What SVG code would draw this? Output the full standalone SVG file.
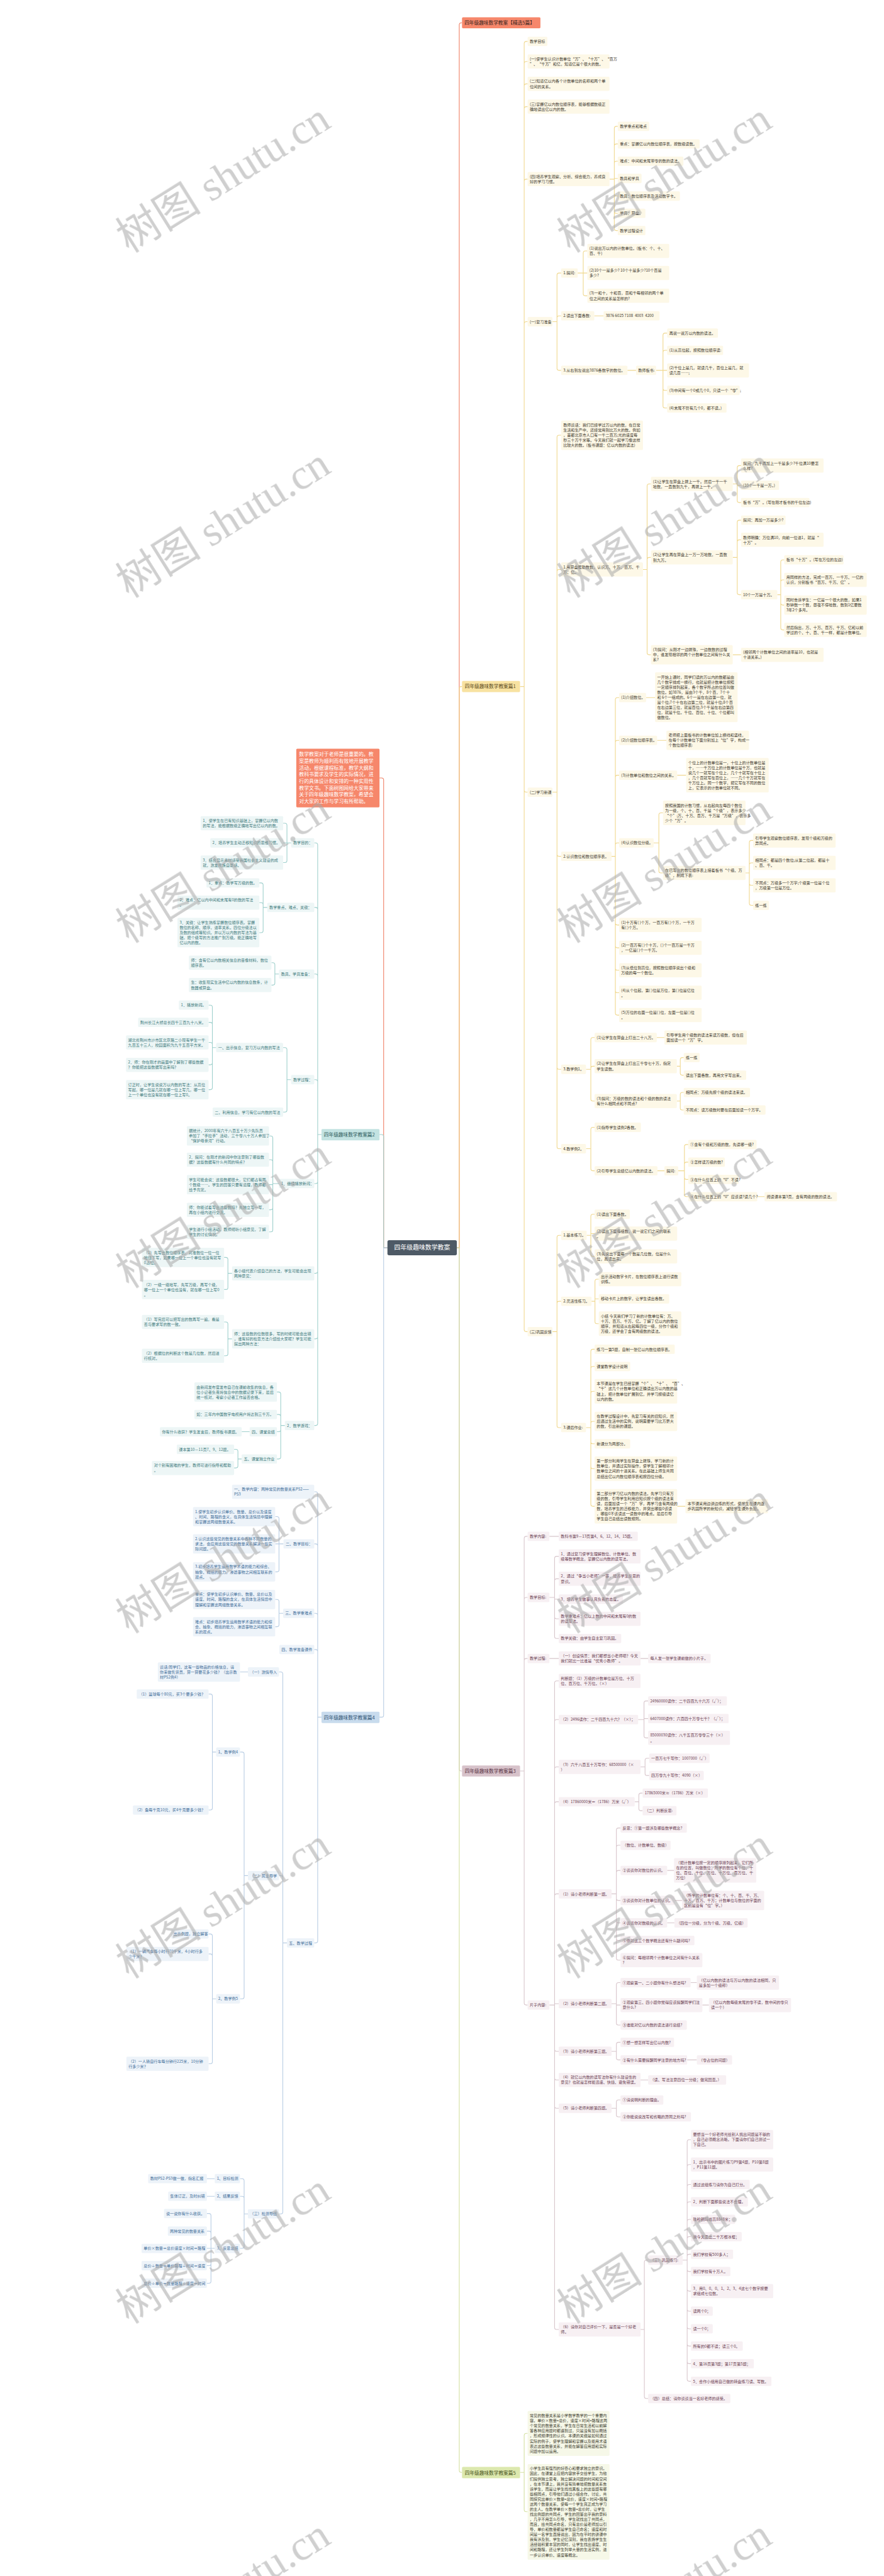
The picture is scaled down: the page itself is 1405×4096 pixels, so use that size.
<svg xmlns="http://www.w3.org/2000/svg" width="1405" height="4096" viewBox="0 0 1405 4096">
<style>
text{font-family:"Noto Sans CJK SC","Noto Sans",sans-serif;font-size:11.2px}
rect{rx:3px}
.y rect{fill:#fdf8e7}.y text{fill:#3f3a30}
.m rect{fill:#f7f0f3}.m text{fill:#6b3d52}
.g rect{fill:#f6f8e8}.g text{fill:#3f4030}
.t rect{fill:#edf6f6}.t text{fill:#3d7a7d}
.b rect{fill:#edf3f9}.b text{fill:#3f6e9a}
.ty rect{fill:#f8e2a1}.ty text{fill:#5b4a1c;font-size:14px}
.tm rect{fill:#d7c2ca}.tm text{fill:#5a3445;font-size:14px}
.tg rect{fill:#dce8ae}.tg text{fill:#4a5520;font-size:14px}
.tt rect{fill:#c3e3e2}.tt text{fill:#2f5e60;font-size:14px}
.tb rect{fill:#c8dbed}.tb text{fill:#2f5575;font-size:14px}
.c path{fill:none;stroke-width:2}
.cy{stroke:#f0d88e}.cm{stroke:#d8c6cc}.cg{stroke:#d4e0a0}.ct{stroke:#9fd0cd}.cb{stroke:#b8cde3}.cr{stroke:#ef7f63}
.wm text{font-family:"Liberation Serif","Noto Sans CJK SC",serif;font-size:124px;fill:#a8a8a8;text-anchor:middle}
</style>
<rect width="1405" height="4096" fill="#ffffff" style="rx:0"/>
<g transform="scale(0.548828)">
<g id="connectors" class="c">
<path class="cr" d="M1323 3615H1330V72Q1330 66 1336 66H1338M1122 3615H1111V2260Q1111 2254 1105 2254H1099"/>
<path class="cy" d="M1323 3615H1330V1995Q1330 1989 1336 1989H1338"/>
<path class="cm" d="M1323 3615H1330V5125Q1330 5131 1336 5131H1338"/>
<path class="cg" d="M1323 3615H1330V7157Q1330 7163 1336 7163H1338"/>
<path class="ct" d="M1122 3615H1111V3293Q1111 3287 1105 3287H1099"/>
<path class="cb" d="M1122 3615H1111V4969Q1111 4975 1105 4975H1099"/>
<path class="cy" d="M1506 1989H1518M1518 1989V126Q1518 120 1524 120H1528M1518 1989V184Q1518 178 1524 178H1528M1518 1989V249Q1518 243 1524 243H1528M1518 1989V315Q1518 309 1524 309H1528M1518 1989V525Q1518 519 1524 519H1528M1518 1989V938Q1518 932 1524 932H1528M1518 1989V2289Q1518 2295 1524 2295H1528M1518 1989V3852Q1518 3858 1524 3858H1528
M1765 519H1779M1779 519V372Q1779 366 1785 366H1789M1779 519V423Q1779 417 1785 417H1789M1779 519V473Q1779 467 1785 467H1789M1779 517H1789M1779 519V562Q1779 568 1785 568H1789M1779 519V612Q1779 618 1785 618H1789M1779 519V662Q1779 668 1785 668H1789
M1600 932H1613M1613 932V797Q1613 791 1619 791H1625M1613 932V921Q1613 915 1619 915H1625M1613 932V1067Q1613 1073 1619 1073H1625
M1673 791H1701M1689 791V733Q1689 727 1695 727H1701M1689 791V851Q1689 857 1695 857H1701
M1721 915H1748M1817 1073H1842
M1900 1073H1932M1920 1073V971Q1920 965 1926 965H1932M1920 1073V1021Q1920 1015 1926 1015H1932M1920 1073V1125Q1920 1131 1926 1131H1932M1920 1073V1176Q1920 1182 1926 1182H1932
M1600 2295H1613M1613 2295V1267Q1613 1261 1619 1261H1625M1613 2295V1656Q1613 1650 1619 1650H1625M1613 2295V2475Q1613 2481 1619 2481H1625M1613 2295V3092Q1613 3098 1619 3098H1625M1613 2295V3322Q1613 3328 1619 3328H1625
M1862 1650H1874M1874 1650V1408Q1874 1402 1880 1402H1885M1874 1650V1621Q1874 1615 1880 1615H1885M1874 1650V1891Q1874 1897 1880 1897H1885
M2122 1402H2135M2135 1402V1355Q2135 1349 2141 1349H2146M2135 1406H2146M2135 1402V1450Q2135 1456 2141 1456H2146
M2122 1615H2135M2135 1615V1513Q2135 1507 2141 1507H2146M2135 1615V1570Q2135 1564 2141 1564H2146M2135 1615V1717Q2135 1723 2141 1723H2146
M2251 1723H2261M2261 1723V1628Q2261 1622 2267 1622H2271M2261 1723V1686Q2261 1680 2267 1680H2271M2261 1723V1747Q2261 1753 2267 1753H2271M2261 1723V1819Q2261 1825 2267 1825H2271
M2122 1897H2146
M1771 2481H1782M1782 2481V2027Q1782 2021 1788 2021H1793M1782 2481V2151Q1782 2145 1788 2145H1793M1782 2481V2252Q1782 2246 1788 2246H1793M1782 2481V2448Q1782 2442 1788 2442H1793M1782 2481V2674Q1782 2680 1788 2680H1793M1782 2481V2740Q1782 2746 1788 2746H1793M1782 2481V2805Q1782 2811 1788 2811H1793M1782 2481V2870Q1782 2876 1788 2876H1793M1782 2481V2935Q1782 2941 1788 2941H1793
M1871 2021H1897M1903 2145H1930M1961 2246H1987
M1893 2442H1908M1908 2442V2361Q1908 2355 1914 2355H1920M1908 2442V2523Q1908 2529 1914 2529H1920
M2159 2529H2170M2170 2529V2441Q2170 2435 2176 2435H2181M2170 2529V2506Q2170 2500 2176 2500H2181M2170 2529V2559Q2170 2565 2176 2565H2181M2170 2529V2617Q2170 2623 2176 2623H2181
M1697 3098H1711M1711 3098V3012Q1711 3006 1717 3006H1722M1711 3098V3095Q1711 3089 1717 3089H1722M1711 3098V3184Q1711 3190 1717 3190H1722
M1902 3006H1924
M1960 3089H1970M1970 3089V3070Q1970 3064 1976 3064H1980M1970 3089V3109Q1970 3115 1976 3115H1980
M1960 3190H1970M1970 3190V3171Q1970 3165 1976 3165H1980M1970 3190V3210Q1970 3216 1976 3216H1980
M1697 3328H1711M1711 3328V3272Q1711 3266 1717 3266H1722M1711 3328V3386Q1711 3392 1717 3392H1722
M1904 3392H1924
M1964 3392H1982M1982 3392V3322Q1982 3316 1988 3316H1993M1982 3392V3373Q1982 3367 1988 3367H1993M1982 3392V3411Q1982 3417 1988 3417H1993M1982 3392V3461Q1982 3467 1988 3467H1993
M2193 3467H2214
M1600 3858H1613M1613 3858V3585Q1613 3579 1619 3579H1625M1613 3858V3776Q1613 3770 1619 3770H1625M1613 3858V4130Q1613 4136 1619 4136H1625
M1699 3579H1711M1711 3579V3524Q1711 3518 1717 3518H1722M1711 3579V3574H1722M1711 3579V3634Q1711 3640 1717 3640H1722
M1713 3770H1723M1723 3770V3712Q1723 3706 1729 3706H1734M1723 3770V3763H1734M1723 3770V3829Q1723 3835 1729 3835H1734
M1697 4136H1711M1711 4136V3915Q1711 3909 1717 3909H1722M1711 4136V3965Q1711 3959 1717 3959H1722M1711 4136V4037Q1711 4031 1717 4031H1722M1711 4136V4124Q1711 4118 1717 4118H1722M1711 4136V4177Q1711 4183 1717 4183H1722M1711 4136V4249Q1711 4255 1717 4255H1722M1711 4136V4358Q1711 4364 1717 4364H1722
M1961 4364H1985"/>
<path class="cm" d="M1506 5131H1518M1518 5131V4457Q1518 4451 1524 4451H1528M1518 5131V4634Q1518 4628 1524 4628H1528M1518 5131V4811Q1518 4805 1524 4805H1528M1518 5131V5803Q1518 5809 1524 5809H1528
M1591 4451H1618
M1591 4628H1606M1606 4628V4515Q1606 4509 1612 4509H1618M1606 4628V4580Q1606 4574 1612 4574H1618M1606 4628V4633H1618M1606 4628V4684Q1606 4690 1612 4690H1618M1606 4628V4741Q1606 4747 1612 4747H1618
M1591 4805H1618M1855 4805H1877
M1591 5809H1606M1606 5809V4876Q1606 4870 1612 4870H1618M1606 5809V4988Q1606 4982 1612 4982H1618M1606 5809V5125Q1606 5119 1612 5119H1618M1606 5809V5226Q1606 5220 1612 5220H1618M1606 5809V5493Q1606 5487 1612 5487H1618M1606 5809V5805H1618M1606 5809V5937Q1606 5943 1612 5943H1618M1606 5809V6020Q1606 6026 1612 6026H1618M1606 5809V6102Q1606 6108 1612 6108H1618M1606 5809V6743Q1606 6749 1612 6749H1618
M1848 4982H1865M1865 4982V4934Q1865 4928 1871 4928H1877M1865 4982V4979H1877M1865 4982V5029Q1865 5035 1871 5035H1877
M1855 5119H1868M1868 5119V5100Q1868 5094 1874 5094H1880M1868 5119V5138Q1868 5144 1874 5144H1880
M1838 5220H1850M1850 5220V5201Q1850 5195 1856 5195H1861M1850 5220V5240Q1850 5246 1856 5246H1861
M1771 5487H1785M1785 5487V5302Q1785 5296 1791 5296H1797M1785 5487V5352Q1785 5346 1791 5346H1797M1785 5487V5425Q1785 5419 1791 5419H1797M1785 5487V5500Q1785 5506 1791 5506H1797M1785 5487V5565Q1785 5571 1791 5571H1797M1785 5487V5616Q1785 5622 1791 5622H1797M1785 5487V5673Q1785 5679 1791 5679H1797
M1932 5419H1952M1954 5506H1975M1932 5571H1953
M1771 5805H1785M1785 5805V5750Q1785 5744 1791 5744H1797M1785 5805V5809H1797M1785 5805V5861Q1785 5867 1791 5867H1797
M2000 5744H2018M2034 5809H2053
M1771 5943H1785M1785 5943V5923Q1785 5917 1791 5917H1797M1785 5943V5962Q1785 5968 1791 5968H1797
M1990 5968H2018M1855 6026H1877
M1771 6108H1785M1785 6108V6090Q1785 6084 1791 6084H1797M1785 6108V6127Q1785 6133 1791 6133H1797
M1855 6749H1866M1866 6749V6554Q1866 6548 1872 6548H1877M1866 6749V6943Q1866 6949 1872 6949H1877
M1977 6548H1990M1990 6548V6205Q1990 6199 1996 6199H2001M1990 6548V6277Q1990 6271 1996 6271H2001M1990 6548V6335Q1990 6329 1996 6329H2001M1990 6548V6385Q1990 6379 1996 6379H2001M1990 6548V6436Q1990 6430 1996 6430H2001M1990 6548V6486Q1990 6480 1996 6480H2001M1990 6548V6537Q1990 6531 1996 6531H2001M1990 6548V6575Q1990 6581 1996 6581H2001M1990 6548V6632Q1990 6638 1996 6638H2001M1990 6548V6690Q1990 6696 1996 6696H2001M1990 6548V6741Q1990 6747 1996 6747H2001M1990 6548V6791Q1990 6797 1996 6797H2001M1990 6548V6842Q1990 6848 1996 6848H2001M1990 6548V6893Q1990 6899 1996 6899H2001"/>
<path class="cg" d="M1506 7163H1518M1518 7163V7056Q1518 7050 1524 7050H1528M1518 7163V7271Q1518 7277 1524 7277H1528"/>
<path class="ct" d="M931 3287H920M920 3287V2448Q920 2442 914 2442H910M920 3287V2635Q920 2629 914 2629H910M920 3287V2828Q920 2822 914 2822H910M920 3287V3134Q920 3128 914 3128H910M920 3287V3423Q920 3429 914 3429H910M920 3287V3683Q920 3689 914 3689H910M920 3287V3873Q920 3879 914 3879H910M920 3287V4124Q920 4130 914 4130H910
M843 2442H820M831 2442V2391Q831 2385 825 2385H820M831 2442V2493Q831 2499 825 2499H820
M774 2629H762M762 2629V2564Q762 2558 756 2558H751M762 2629V2621Q762 2615 756 2615H751M762 2629V2696Q762 2702 756 2702H751
M808 2822H796M796 2822V2795Q796 2789 790 2789H786M796 2822V2848Q796 2854 790 2854H786
M843 3128H831M831 3128V3041Q831 3035 825 3035H820M831 3128V3216Q831 3222 825 3222H820
M626 3035H615M615 3035V2918Q615 2912 609 2912H604M615 3035V2968Q615 2962 609 2962H604M615 3035V3026Q615 3020 609 3020H604M615 3035V3079Q615 3085 609 3085H604M615 3035V3151Q615 3157 609 3157H604
M808 3429H790M790 3429V3297Q790 3291 784 3291H779M790 3429V3366Q790 3360 784 3360H779M790 3429V3432H779M790 3429V3499Q790 3505 784 3505H779M790 3429V3563Q790 3569 784 3569H779
M672 3689H660M660 3689V3649Q660 3643 654 3643H649M660 3689V3730Q660 3736 654 3736H649
M672 3879H660M660 3879V3836Q660 3830 654 3830H649M660 3879V3922Q660 3928 654 3928H649
M825 4130H813M813 4130V4039Q813 4033 807 4033H802M813 4130V4104Q813 4098 807 4098H802M813 4130V4142Q813 4148 807 4148H802M813 4130V4221Q813 4227 807 4227H802
M723 4148H700
M700 4227H689M689 4227V4205Q689 4199 683 4199H678M689 4227V4247Q689 4253 683 4253H678"/>
<path class="cb" d="M931 4975H920M920 4975V4328Q920 4322 914 4322H910M920 4975V4479Q920 4473 914 4473H910M920 4975V4680Q920 4674 914 4674H910M920 4975V4785Q920 4779 914 4779H910M920 4975V5623Q920 5629 914 5629H910
M821 4473H797M808 4473V4400Q808 4394 802 4394H797M808 4473V4548Q808 4554 802 4554H797
M820 4674H808M808 4674V4640Q808 4634 802 4634H797M808 4674V4707Q808 4713 802 4713H797
M831 5629H819M819 5629V4850Q819 4844 813 4844H808M819 5629V5440Q819 5434 813 5434H808M819 5629V6408Q819 6414 813 6414H808
M718 4844H695
M718 5434H707M707 5434V5082Q707 5076 701 5076H695M707 5434V5785Q707 5791 701 5791H695
M626 5076H615M615 5076V4914Q615 4908 609 4908H604M615 5076V5238Q615 5244 609 5244H604
M626 5791H615M615 5791V5609Q615 5603 609 5603H604M615 5791V5667Q615 5661 609 5661H604M615 5791V5973Q615 5979 609 5979H604
M718 6414H707M707 6414V6318Q707 6312 701 6312H695M707 6414V6369Q707 6363 701 6363H695M707 6414V6508Q707 6514 701 6514H695
M622 6312H599M622 6363H599
M622 6514H599M611 6514V6419Q611 6413 605 6413H599M611 6514V6470Q611 6464 605 6464H599M611 6514V6558Q611 6564 605 6564H599M611 6514V6609Q611 6615 605 6615H599"/>
</g>

<g id="center"><rect x="1122" y="3593" width="201" height="44" fill="#4e5a66" style="rx:5px"/><text x="1222.5" y="3621" text-anchor="middle" fill="#ffffff" style="font-size:18px">四年级趣味数学教案</text></g>
<g id="root-title"><rect x="1338" y="50" width="227" height="32" fill="#f6876b"/><text x="1345" y="71" fill="#3a2622" style="font-size:14px">四年级趣味数学教案【精选5篇】</text></g>
<g id="intro"><rect x="858" y="2169" width="241" height="170" fill="#f6876b"/><text x="866" y="2191" fill="#ffffff" style="font-size:14.4px">数学教案对于老师是很重要的。教<tspan x="866" dy="19.4">案是教师为顺利而有效地开展教学</tspan><tspan x="866" dy="19.4">活动，根据课程标准，教学大纲和</tspan><tspan x="866" dy="19.4">教科书要求及学生的实际情况，进</tspan><tspan x="866" dy="19.4">行的具体设计和安排的一种实用性</tspan><tspan x="866" dy="19.4">教学文书。下面树图网给大家带来</tspan><tspan x="866" dy="19.4">关于四年级趣味数学教案，希望会</tspan><tspan x="866" dy="19.4">对大家的工作与学习有所帮助。</tspan></text></g>

<!-- 篇1 -->
<g id="p1" class="ty"><rect x="1338" y="1973" width="168" height="32"/><text x="1346" y="1994">四年级趣味数学教案篇1</text></g>
<g id="y1" class="y"><rect x="1528" y="106.5" width="57" height="27"/><text x="1534" y="124">教学目标</text></g>
<g id="y2" class="y"><rect x="1528" y="157.5" width="237" height="41"/><text x="1534" y="174.6">(一)使学生认识计数单位“万”、“十万”、“百万<tspan x="1534" dy="14.7">”、“千万”和亿，知道亿是个很大的数。</tspan></text></g>
<g id="y3" class="y"><rect x="1528" y="222.5" width="237" height="41"/><text x="1534" y="239.6">(二)知道亿以内各个计数单位的名称和两个单<tspan x="1534" dy="14.7">位间的关系。</tspan></text></g>
<g id="y4" class="y"><rect x="1528" y="288.5" width="237" height="41"/><text x="1534" y="305.6">(三)掌握亿以内数位顺序表，能够根据数级正<tspan x="1534" dy="14.7">确地读出亿以内的数。</tspan></text></g>
<g id="y5" class="y"><rect x="1528" y="498.5" width="237" height="41"/><text x="1534" y="515.6">(四)培养学生观察、分析、综合能力，养成良<tspan x="1534" dy="14.7">好的学习习惯。</tspan></text></g>
<g id="y5a" class="y"><rect x="1789" y="352.5" width="91" height="27"/><text x="1795" y="370">教学重点和难点</text></g>
<g id="y5b" class="y"><rect x="1789" y="403.5" width="237" height="27"/><text x="1795" y="421">重点：掌握亿以内数位顺序表，按数级读数。</text></g>
<g id="y5c" class="y"><rect x="1789" y="453.5" width="190" height="27"/><text x="1795" y="471">难点：中间和末尾带零的数的读法。</text></g>
<g id="y5d" class="y"><rect x="1789" y="503.5" width="69" height="27"/><text x="1795" y="521">教具和学具</text></g>
<g id="y5e" class="y"><rect x="1789" y="554.5" width="180" height="27"/><text x="1795" y="572">教具：数位顺序表及活动数字卡。</text></g>
<g id="y5f" class="y"><rect x="1789" y="604.5" width="80" height="27"/><text x="1795" y="622">学具：算盘。</text></g>
<g id="y5g" class="y"><rect x="1789" y="654.5" width="80" height="27"/><text x="1795" y="672">教学过程设计</text></g>
<g id="y6" class="y"><rect x="1528" y="918.5" width="72" height="27"/><text x="1534" y="936">(一)复习准备</text></g>
<g id="y6a" class="y"><rect x="1625" y="777.5" width="48" height="27"/><text x="1631" y="795">1.提问:</text></g>
<g id="y6a1" class="y"><rect x="1701" y="706.5" width="237" height="41"/><text x="1707" y="723.6">(1)说出万以内的计数单位。(板书：个、十、<tspan x="1707" dy="14.7">百、千)</tspan></text></g>
<g id="y6a2" class="y"><rect x="1701" y="770.5" width="237" height="41"/><text x="1707" y="787.6">(2)10个一是多少? 10个十是多少?10个百是<tspan x="1707" dy="14.7">多少?</tspan></text></g>
<g id="y6a3" class="y"><rect x="1701" y="836.5" width="237" height="41"/><text x="1707" y="853.6">(3)一和十，十和百，百和千每相邻的两个单<tspan x="1707" dy="14.7">位之间的关系是怎样的?</tspan></text></g>
<g id="y6b" class="y"><rect x="1625" y="901.5" width="96" height="27"/><text x="1631" y="919">2.读出下面各数:</text></g>
<g id="y6b1" class="y"><rect x="1748" y="901.5" width="162" height="27"/><text x="1754" y="919">3876 6025 7108 &#160;4003 &#160;4200</text></g>
<g id="y6c" class="y"><rect x="1625" y="1059.5" width="192" height="27"/><text x="1631" y="1077">3.从右到左说出3876各数字的数位。</text></g>
<g id="y6c1" class="y"><rect x="1842" y="1059.5" width="58" height="27"/><text x="1848" y="1077">教师板书:</text></g>
<g id="y6c1a" class="y"><rect x="1932" y="951.5" width="147" height="27"/><text x="1938" y="969">再说一说万以内数的读法。</text></g>
<g id="y6c1b" class="y"><rect x="1932" y="1001.5" width="162" height="27"/><text x="1938" y="1019">(1)从高位起，按照数位顺序读:</text></g>
<g id="y6c1c" class="y"><rect x="1932" y="1052.5" width="237" height="41"/><text x="1938" y="1069.6">(2)千位上是几，就读几千，百位上是几，就<tspan x="1938" dy="14.7">读几百……;</tspan></text></g>
<g id="y6c1d" class="y"><rect x="1932" y="1117.5" width="210" height="27"/><text x="1938" y="1135">(3)中间有一个0或几个0，只读一个“零”;</text></g>
<g id="y6c1e" class="y"><rect x="1932" y="1168.5" width="172" height="27"/><text x="1938" y="1186">(4)末尾不管有几个0，都不读。)</text></g>
<g id="y7" class="y"><rect x="1528" y="2281.5" width="72" height="27"/><text x="1534" y="2299">(二)学习新课</text></g>
<g id="y7a" class="y"><rect x="1625" y="1218.5" width="237" height="85"/><text x="1631" y="1235.6">教师谈话：我们已经学过万以内的数，在日常<tspan x="1631" dy="14.7">生活和生产中，还经常用到比万大的数。例如</tspan><tspan x="1631" dy="14.7">，首都北京市人口有一千二百万;光的速度每</tspan><tspan x="1631" dy="14.7">秒三十万千米等。今天我们就一起学习像这样</tspan><tspan x="1631" dy="14.7">比较大的数。(板书课题：亿以内数的读法)</tspan></text></g>
<g id="y7b" class="y"><rect x="1625" y="1629.5" width="237" height="41"/><text x="1631" y="1646.6">1.用算盘帮助数数，认识万、十万、百万、千<tspan x="1631" dy="14.7">万、亿。</tspan></text></g>
<g id="y7b1" class="y"><rect x="1885" y="1381.5" width="237" height="41"/><text x="1891" y="1398.6">(1)让学生在算盘上拨上一千。然后一千一千<tspan x="1891" dy="14.7">地数，一直数到九千，再拨上一千。</tspan></text></g>
<g id="y7b1a" class="y"><rect x="2146" y="1328.5" width="239" height="41"/><text x="2152" y="1345.6">提问：九千再加上一千是多少?千位满10要怎<tspan x="2152" dy="14.7">么样?</tspan></text></g>
<g id="y7b1b" class="y"><rect x="2146" y="1392.5" width="110" height="27"/><text x="2152" y="1410">(10个一千是一万。)</text></g>
<g id="y7b1c" class="y"><rect x="2146" y="1442.5" width="198" height="27"/><text x="2152" y="1460">板书“万”。(写在刚才板书的千位左边)</text></g>
<g id="y7b2" class="y"><rect x="1885" y="1594.5" width="237" height="41"/><text x="1891" y="1611.6">(2)让学生再在算盘上一万一万地数，一直数<tspan x="1891" dy="14.7">到九万。</tspan></text></g>
<g id="y7b2a" class="y"><rect x="2146" y="1493.5" width="129" height="27"/><text x="2152" y="1511">提问：再加一万是多少?</text></g>
<g id="y7b2b" class="y"><rect x="2146" y="1543.5" width="239" height="41"/><text x="2152" y="1560.6">教师明确：万位满10，向前一位进1，就是“<tspan x="2152" dy="14.7">十万”。</tspan></text></g>
<g id="y7b2c" class="y"><rect x="2146" y="1709.5" width="105" height="27"/><text x="2152" y="1727">10个一万是十万。</text></g>
<g id="y7b2c1" class="y"><rect x="2271" y="1608.5" width="172" height="27"/><text x="2277" y="1626">板书“十万”。(写在万位的左边)</text></g>
<g id="y7b2c2" class="y"><rect x="2271" y="1659.5" width="239" height="41"/><text x="2277" y="1676.6">用同样的方法，完成一百万、一千万、一亿的<tspan x="2277" dy="14.7">认识，分别板书“百万、千万、亿”。</tspan></text></g>
<g id="y7b2c3" class="y"><rect x="2271" y="1725" width="239" height="56"/><text x="2277" y="1742.3">同时告诉学生：一亿是一个很大的数，如果1<tspan x="2277" dy="14.7">秒钟数一个数，昼夜不停地数，数到1亿要数</tspan><tspan x="2277" dy="14.7">3年2个多月。</tspan></text></g>
<g id="y7b2c4" class="y"><rect x="2271" y="1804.5" width="239" height="41"/><text x="2277" y="1821.6">然后指出，万、十万、百万、千万、亿和以前<tspan x="2277" dy="14.7">学过的个、十、百、千一样，都是计数单位。</tspan></text></g>
<g id="y7b3" class="y"><rect x="1885" y="1869" width="237" height="56"/><text x="1891" y="1886.3">(3)提问：从刚才一边拨珠，一边数数的过程<tspan x="1891" dy="14.7">中，谁发现相邻的两个计数单位之间有什么关</tspan><tspan x="1891" dy="14.7">系?</tspan></text></g>
<g id="y7b3a" class="y"><rect x="2146" y="1876.5" width="239" height="41"/><text x="2152" y="1893.6">(相邻两个计数单位之间的进率是10，也就是<tspan x="2152" dy="14.7">十进关系。)</tspan></text></g>
<g id="y7c" class="y"><rect x="1625" y="2467.5" width="146" height="27"/><text x="1631" y="2485">2.认识数位和数位顺序表。</text></g>
<g id="y7c1" class="y"><rect x="1793" y="2007.5" width="78" height="27"/><text x="1799" y="2025">(1)介绍数位。</text></g>
<g id="y7c1a" class="y"><rect x="1897" y="1948" width="239" height="144"/><text x="1903" y="1965.1">一开始上课时，同学们读的万以内的数都是由<tspan x="1903" dy="14.7">几个数字排成一横行，也就是把计数单位按照</tspan><tspan x="1903" dy="14.7">一定顺序排列起来，各个数字所占的位置叫做</tspan><tspan x="1903" dy="14.7">数位。如3876，是由3个千，8个百，7个十</tspan><tspan x="1903" dy="14.7">和 6个一组成的。6个一是在右边第一位，就</tspan><tspan x="1903" dy="14.7">是个位;7个十在右边第二位，就是十位;8个百</tspan><tspan x="1903" dy="14.7">在右边第三位，就是百位;3个千是在右边第四</tspan><tspan x="1903" dy="14.7">位，就是千位。千位、百位、十位、个位都叫</tspan><tspan x="1903" dy="14.7">做数位。</tspan></text></g>
<g id="y7c2" class="y"><rect x="1793" y="2131.5" width="110" height="27"/><text x="1799" y="2149">(2)介绍数位顺序表。</text></g>
<g id="y7c2a" class="y"><rect x="1930" y="2117" width="239" height="56"/><text x="1936" y="2134.3">老师把上面板书的计数单位加上横线和竖线，<tspan x="1936" dy="14.7">在每个计数单位下面分别加上“位”字，构成一</tspan><tspan x="1936" dy="14.7">个数位顺序表:</tspan></text></g>
<g id="y7c3" class="y"><rect x="1793" y="2232.5" width="168" height="27"/><text x="1799" y="2250">(3)计数单位和数位之间的关系。</text></g>
<g id="y7c3a" class="y"><rect x="1987" y="2196" width="239" height="100"/><text x="1993" y="2213.2">个位上的计数单位是一，十位上的计数单位是<tspan x="1993" dy="14.7">十，……千万位上的计数单位是千万，也就是</tspan><tspan x="1993" dy="14.7">说几个一就写在个位上，几个十就写在十位上</tspan><tspan x="1993" dy="14.7">，几个百就写在百位上，……几个千万就写在</tspan><tspan x="1993" dy="14.7">千万位上。同一个数字，把它写在不同的数位</tspan><tspan x="1993" dy="14.7">上，它表示的计数单位就不同。</tspan></text></g>
<g id="y7c4" class="y"><rect x="1793" y="2428.5" width="100" height="27"/><text x="1799" y="2446">(4)认识数位分级。</text></g>
<g id="y7c4a" class="y"><rect x="1920" y="2319.5" width="239" height="71"/><text x="1926" y="2336.9">按照我国的计数习惯，从右起向左每四个数位<tspan x="1926" dy="14.7">为一级，个、十、百、千是“个级”，表示多少</tspan><tspan x="1926" dy="14.7">“个”;万、十万、百万、千万是“万级”，表示多</tspan><tspan x="1926" dy="14.7">少个“万”。</tspan></text></g>
<g id="y7c4b" class="y"><rect x="1920" y="2508.5" width="239" height="41"/><text x="1926" y="2525.6">在已写出的数位顺序表上接着板书“个级、万<tspan x="1926" dy="14.7">级”，制成下表:</tspan></text></g>
<g id="y7c4b1" class="y"><rect x="2181" y="2414.5" width="239" height="41"/><text x="2187" y="2431.6">引导学生观察数位顺序表，发现个级和万级的<tspan x="2187" dy="14.7">异同点。</tspan></text></g>
<g id="y7c4b2" class="y"><rect x="2181" y="2479.5" width="239" height="41"/><text x="2187" y="2496.6">相同点：都是四个数位;从第二位起，都是十<tspan x="2187" dy="14.7">、百、千。</tspan></text></g>
<g id="y7c4b3" class="y"><rect x="2181" y="2544.5" width="239" height="41"/><text x="2187" y="2561.6">不同点：万级多一个万字;个级第一位是个位<tspan x="2187" dy="14.7">，万级第一位是万位。</tspan></text></g>
<g id="y7c4b4" class="y"><rect x="2181" y="2609.5" width="46" height="27"/><text x="2187" y="2627">练一练</text></g>
<g id="y7c5" class="y"><rect x="1793" y="2659.5" width="239" height="41"/><text x="1799" y="2676.6">(1)十万有( )个万，一百万有( )个万，一千万<tspan x="1799" dy="14.7">有( )个万。</tspan></text></g>
<g id="y7c6" class="y"><rect x="1793" y="2725.5" width="239" height="41"/><text x="1799" y="2742.6">(2)一百万有( )个十万，( )个一百万是一千万<tspan x="1799" dy="14.7">，一亿是( )个一千万。</tspan></text></g>
<g id="y7c7" class="y"><rect x="1793" y="2790.5" width="239" height="41"/><text x="1799" y="2807.6">(3)从低位到高位，按照数位顺序说出个级和<tspan x="1799" dy="14.7">万级的每一个数位。</tspan></text></g>
<g id="y7c8" class="y"><rect x="1793" y="2855.5" width="239" height="41"/><text x="1799" y="2872.6">(4)从个位起，第( )位是万位，第( )位是亿位<tspan x="1799" dy="14.7">。</tspan></text></g>
<g id="y7c9" class="y"><rect x="1793" y="2920.5" width="239" height="41"/><text x="1799" y="2937.6">(5)万位的右面一位是( )位，左面一位是( )位<tspan x="1799" dy="14.7">。</tspan></text></g>
<g id="y7d" class="y"><rect x="1625" y="3084.5" width="72" height="27"/><text x="1631" y="3102">3.教学例1。</text></g>
<g id="y7d1" class="y"><rect x="1722" y="2992.5" width="180" height="27"/><text x="1728" y="3010">(1)让学生在算盘上打出二十八万。</text></g>
<g id="y7d1a" class="y"><rect x="1924" y="2985.5" width="239" height="41"/><text x="1930" y="3002.6">引导学生用个级数的读法来读万级数，但在后<tspan x="1930" dy="14.7">面加读一个“万”字。</tspan></text></g>
<g id="y7d2" class="y"><rect x="1722" y="3068.5" width="238" height="41"/><text x="1728" y="3085.6">(2)让学生在算盘上打出三千零七十万，指定<tspan x="1728" dy="14.7">学生读数。</tspan></text></g>
<g id="y7d2a" class="y"><rect x="1980" y="3050.5" width="46" height="27"/><text x="1986" y="3068">练一练</text></g>
<g id="y7d2b" class="y"><rect x="1980" y="3101.5" width="181" height="27"/><text x="1986" y="3119">读出下面各数，再用文字写出来。</text></g>
<g id="y7d3" class="y"><rect x="1722" y="3169.5" width="238" height="41"/><text x="1728" y="3186.6">(3)提问：万级的数的读法和个级的数的读法<tspan x="1728" dy="14.7">有什么相同点和不同点?</tspan></text></g>
<g id="y7d3a" class="y"><rect x="1980" y="3151.5" width="192" height="27"/><text x="1986" y="3169">相同点：万级先按个级的读法来读。</text></g>
<g id="y7d3b" class="y"><rect x="1980" y="3202.5" width="237" height="27"/><text x="1986" y="3220">不同点：读万级数时要在后面加读一个万字。</text></g>
<g id="y7e" class="y"><rect x="1625" y="3314.5" width="72" height="27"/><text x="1631" y="3332">4.教学例2。</text></g>
<g id="y7e1" class="y"><rect x="1722" y="3252.5" width="134" height="27"/><text x="1728" y="3270">(1)指导学生读例2各数。</text></g>
<g id="y7e2" class="y"><rect x="1722" y="3378.5" width="182" height="27"/><text x="1728" y="3396">(2)引导学生总结亿以内数的读法。</text></g>
<g id="y7e2a" class="y"><rect x="1924" y="3378.5" width="40" height="27"/><text x="1930" y="3396">提问:</text></g>
<g id="y7e2a1" class="y"><rect x="1993" y="3302.5" width="198" height="27"/><text x="1999" y="3320">①含有个级和万级的数，先读哪一级?</text></g>
<g id="y7e2a2" class="y"><rect x="1993" y="3353.5" width="106" height="27"/><text x="1999" y="3371">②怎样读万级的数?</text></g>
<g id="y7e2a3" class="y"><rect x="1993" y="3403.5" width="146" height="27"/><text x="1999" y="3421">③在什么位置上的“0”不读?</text></g>
<g id="y7e2a4" class="y"><rect x="1993" y="3453.5" width="200" height="27"/><text x="1999" y="3471">④在什么位置上的“0”应该读?读几个?</text></g>
<g id="y7e2a4a" class="y"><rect x="2214" y="3453.5" width="210" height="27"/><text x="2220" y="3471">阅读课本第3页，含有两级的数的读法。</text></g>
<g id="y8" class="y"><rect x="1528" y="3844.5" width="72" height="27"/><text x="1534" y="3862">(三)巩固反馈</text></g>
<g id="y8a" class="y"><rect x="1625" y="3565.5" width="74" height="27"/><text x="1631" y="3583">1.基本练习。</text></g>
<g id="y8a1" class="y"><rect x="1722" y="3504.5" width="102" height="27"/><text x="1728" y="3522">(1)读出下面各数。</text></g>
<g id="y8a2" class="y"><rect x="1722" y="3553.5" width="239" height="41"/><text x="1728" y="3570.6">(2)读出下面每组数，说一说它们之间的联系<tspan x="1728" dy="14.7">。</tspan></text></g>
<g id="y8a3" class="y"><rect x="1722" y="3619.5" width="239" height="41"/><text x="1728" y="3636.6">(3)先说出下面每一个数是几位数，位是什么<tspan x="1728" dy="14.7">位，再读出来。</tspan></text></g>
<g id="y8b" class="y"><rect x="1625" y="3756.5" width="88" height="27"/><text x="1631" y="3774">2.灵活性练习。</text></g>
<g id="y8b1" class="y"><rect x="1734" y="3685.5" width="239" height="41"/><text x="1740" y="3702.6">出示活动数字卡片，在数位顺序表上进行读数<tspan x="1740" dy="14.7">训练。</tspan></text></g>
<g id="y8b2" class="y"><rect x="1734" y="3749.5" width="204" height="27"/><text x="1740" y="3767">移动卡片上的数字，让学生读出各数。</text></g>
<g id="y8b3" class="y"><rect x="1734" y="3799.5" width="239" height="71"/><text x="1740" y="3816.9">小结 今天我们学习了新的计数单位有：万、<tspan x="1740" dy="14.7">十万、百万、千万、亿。了解了亿以内的数位</tspan><tspan x="1740" dy="14.7">顺序，并知道从右起每四位一级，分作个级和</tspan><tspan x="1740" dy="14.7">万级，还学会了含有两级数的读法。</tspan></text></g>
<g id="y8c" class="y"><rect x="1625" y="4122.5" width="72" height="27"/><text x="1631" y="4140">3.课后作业:</text></g>
<g id="y8c1" class="y"><rect x="1722" y="3895.5" width="232" height="27"/><text x="1728" y="3913">练习一第5题，自制一张亿以内数位顺序表。</text></g>
<g id="y8c2" class="y"><rect x="1722" y="3945.5" width="103" height="27"/><text x="1728" y="3963">课堂教学设计说明</text></g>
<g id="y8c3" class="y"><rect x="1722" y="3995.5" width="239" height="71"/><text x="1728" y="4012.9">本节课是在学生已经掌握“个”、“十”、“百”、<tspan x="1728" dy="14.7">“千”这几个计数单位和正确读出万以内数的基</tspan><tspan x="1728" dy="14.7">础上，把计数单位扩展到亿，并学习按级读亿</tspan><tspan x="1728" dy="14.7">以内的数。</tspan></text></g>
<g id="y8c4" class="y"><rect x="1722" y="4090" width="239" height="56"/><text x="1728" y="4107.3">在教学过程设计中，先复习有关的旧知识，然<tspan x="1728" dy="14.7">后通过生活中的实例，说明需要学习比万更大</tspan><tspan x="1728" dy="14.7">的数，引出新的课题。</tspan></text></g>
<g id="y8c5" class="y"><rect x="1722" y="4169.5" width="103" height="27"/><text x="1728" y="4187">新课分为两部分。</text></g>
<g id="y8c6" class="y"><rect x="1722" y="4219.5" width="239" height="71"/><text x="1728" y="4236.9">第一部分利用学生在算盘上拨珠，学习新的计<tspan x="1728" dy="14.7">数单位，并通过实际操作，使学生了解相邻计</tspan><tspan x="1728" dy="14.7">数单位之间的十进关系。在此基础上师生共同</tspan><tspan x="1728" dy="14.7">总结出亿以内数位顺序表和按四位分级。</tspan></text></g>
<g id="y8c7" class="y"><rect x="1722" y="4314" width="239" height="100"/><text x="1728" y="4331.2">第二部分学习亿以内数的读法。先学习只有万<tspan x="1728" dy="14.7">级的数，引导学生利用旧知识按个级的读法来</tspan><tspan x="1728" dy="14.7">读，后面加读一个“万”字，再学习含有两级的</tspan><tspan x="1728" dy="14.7">数，培养学生的迁移能力，并突出哪些0该读</tspan><tspan x="1728" dy="14.7">，哪些0不该读这一读数中的难点。最后引导</tspan><tspan x="1728" dy="14.7">学生自己总结出读数规则。</tspan></text></g>
<g id="y8c7a" class="y"><rect x="1985" y="4343.5" width="239" height="41"/><text x="1991" y="4360.6">本节课采用边讲边练的形式，使学生在课内逐<tspan x="1991" dy="14.7">步巩固所学的新知识，减轻学生课外负担。</tspan></text></g>

<!-- 篇3 -->
<g id="p3" class="tm"><rect x="1338" y="5115" width="168" height="32"/><text x="1346" y="5136">四年级趣味数学教案篇3</text></g>
<g id="m1" class="m"><rect x="1528" y="4437.5" width="63" height="27"/><text x="1534" y="4455">教学内容:</text></g>
<g id="m1a" class="m"><rect x="1618" y="4437.5" width="229" height="27"/><text x="1624" y="4455">教科书第9－13页第4、6、12、14、15题。</text></g>
<g id="m2" class="m"><rect x="1528" y="4614.5" width="63" height="27"/><text x="1534" y="4632">教学目标:</text></g>
<g id="m2a" class="m"><rect x="1618" y="4488.5" width="237" height="41"/><text x="1624" y="4505.6">1．通过复习使学生理解数位、计数单位、数<tspan x="1624" dy="14.7">级等数学概念，掌握亿以内数的读写法。</tspan></text></g>
<g id="m2b" class="m"><rect x="1618" y="4553.5" width="237" height="41"/><text x="1624" y="4570.6">2．通过“争当小老师”一事，培养学生反思的<tspan x="1624" dy="14.7">意识。</tspan></text></g>
<g id="m2c" class="m"><rect x="1618" y="4619.5" width="186" height="27"/><text x="1624" y="4637">3．培养学生做事认真负责的态度。</text></g>
<g id="m2d" class="m"><rect x="1618" y="4669.5" width="237" height="41"/><text x="1624" y="4686.6">教学重难点：亿以上数的中间和末尾有0的数<tspan x="1624" dy="14.7">的读写法。</tspan></text></g>
<g id="m2e" class="m"><rect x="1618" y="4733.5" width="181" height="27"/><text x="1624" y="4751">教学关键：由学生自主复习巩固。</text></g>
<g id="m3" class="m"><rect x="1528" y="4791.5" width="63" height="27"/><text x="1534" y="4809">教学过程:</text></g>
<g id="m3a" class="m"><rect x="1618" y="4784.5" width="237" height="41"/><text x="1624" y="4801.6">（一）创设情景：我们都想当小老师吧？今天<tspan x="1624" dy="14.7">我们就比一比谁是“优秀小教师”。</tspan></text></g>
<g id="m3a1" class="m"><rect x="1877" y="4791.5" width="181" height="27"/><text x="1883" y="4809">每人发一张学生课前做的小片子。</text></g>
<g id="m4" class="m"><rect x="1528" y="5795.5" width="63" height="27"/><text x="1534" y="5813">片子内容:</text></g>
<g id="m4a" class="m"><rect x="1618" y="4849.5" width="237" height="41"/><text x="1624" y="4866.6">判断题：（1）万级的计数单位是万位、十万<tspan x="1624" dy="14.7">位、百万位、千万位。（×）</tspan></text></g>
<g id="m4b" class="m"><rect x="1618" y="4968.5" width="230" height="27"/><text x="1624" y="4986">（2）2496读作：二千四百九十六？（×）；</text></g>
<g id="m4b1" class="m"><rect x="1877" y="4914.5" width="228" height="27"/><text x="1883" y="4932">24960000读作：二千四百九十六万（√）；</text></g>
<g id="m4b2" class="m"><rect x="1877" y="4965.5" width="233" height="27"/><text x="1883" y="4983">6407000读作：六百四十万零七千？（√）；</text></g>
<g id="m4b3" class="m"><rect x="1877" y="5014.5" width="237" height="41"/><text x="1883" y="5031.6">85000030读作：八千五百万零零三十（×）<tspan x="1883" dy="14.7">。</tspan></text></g>
<g id="m4c" class="m"><rect x="1618" y="5098.5" width="237" height="41"/><text x="1624" y="5115.6">（3）六千八百五十万写作：68500000（×<tspan x="1624" dy="14.7">）</tspan></text></g>
<g id="m4c1" class="m"><rect x="1880" y="5080.5" width="175" height="27"/><text x="1886" y="5098">一百万七千写作：1007000（√）</text></g>
<g id="m4c2" class="m"><rect x="1880" y="5130.5" width="158" height="27"/><text x="1886" y="5148">四万零九十写作：4090（×）</text></g>
<g id="m4d" class="m"><rect x="1618" y="5206.5" width="220" height="27"/><text x="1624" y="5224">（4）17860000米＝（1786）万米（√）</text></g>
<g id="m4d1" class="m"><rect x="1861" y="5181.5" width="189" height="27"/><text x="1867" y="5199">17865000米≈（1786）万米（×）</text></g>
<g id="m4d2" class="m"><rect x="1861" y="5232.5" width="98" height="27"/><text x="1867" y="5250">（二）判断反思:</text></g>
<g id="m4e" class="m"><rect x="1618" y="5473.5" width="153" height="27"/><text x="1624" y="5491">（1）请小老师判断第一题。</text></g>
<g id="m4e1" class="m"><rect x="1797" y="5282.5" width="192" height="27"/><text x="1803" y="5300">反思：①第一题涉及哪些数学概念?</text></g>
<g id="m4e2" class="m"><rect x="1797" y="5332.5" width="145" height="27"/><text x="1803" y="5350">（数位、计数单位、数级）</text></g>
<g id="m4e3" class="m"><rect x="1797" y="5405.5" width="135" height="27"/><text x="1803" y="5423">②谈谈你对数位的认识。</text></g>
<g id="m4e3a" class="m"><rect x="1952" y="5383.5" width="238" height="71"/><text x="1958" y="5400.9">（把计数单位按一定的顺序排列起来，它们所<tspan x="1958" dy="14.7">在的位置，叫做数位；所学的数位有个位、十</tspan><tspan x="1958" dy="14.7">位、百位、千位、万位、十万位、百万位、千</tspan><tspan x="1958" dy="14.7">万位）</tspan></text></g>
<g id="m4e4" class="m"><rect x="1797" y="5492.5" width="157" height="27"/><text x="1803" y="5510">③谈谈你对计数单位的认识。</text></g>
<g id="m4e4a" class="m"><rect x="1975" y="5478" width="238" height="56"/><text x="1981" y="5495.3">（所学的计数单位有：个、十、百、千、万、<tspan x="1981" dy="14.7">十万、百万、千万；计数单位与数位的字面的</tspan><tspan x="1981" dy="14.7">区别是没有“位”字。）</tspan></text></g>
<g id="m4e5" class="m"><rect x="1797" y="5557.5" width="135" height="27"/><text x="1803" y="5575">④谈谈你对数级的认识。</text></g>
<g id="m4e5a" class="m"><rect x="1953" y="5557.5" width="212" height="27"/><text x="1959" y="5575">（四位一分级，分为个级、万级、亿级）</text></g>
<g id="m4e6" class="m"><rect x="1797" y="5608.5" width="214" height="27"/><text x="1803" y="5626">⑤你对这三个数学概念还有什么疑问吗?</text></g>
<g id="m4e7" class="m"><rect x="1797" y="5658.5" width="237" height="41"/><text x="1803" y="5675.6">⑥提问：每相邻两个计数单位之间有什么关系<tspan x="1803" dy="14.7">?</tspan></text></g>
<g id="m4f" class="m"><rect x="1618" y="5791.5" width="153" height="27"/><text x="1624" y="5809">（2）请小老师判断第二题。</text></g>
<g id="m4f1" class="m"><rect x="1797" y="5730.5" width="203" height="27"/><text x="1803" y="5748">①观察第一、二小题你有什么想法吗?</text></g>
<g id="m4f1a" class="m"><rect x="2018" y="5723.5" width="238" height="41"/><text x="2024" y="5740.6">（亿以内数的读法与万以内数的读法相同，只<tspan x="2024" dy="14.7">是多加一个级称）</tspan></text></g>
<g id="m4f2" class="m"><rect x="1797" y="5788.5" width="237" height="41"/><text x="1803" y="5805.6">②观察第三、四小题你觉得应该提醒同学们注<tspan x="1803" dy="14.7">意什么?</tspan></text></g>
<g id="m4f2a" class="m"><rect x="2053" y="5788.5" width="238" height="41"/><text x="2059" y="5805.6">（亿以内数每级末尾的零不读，数中间的零只<tspan x="2059" dy="14.7">读一个）</tspan></text></g>
<g id="m4f3" class="m"><rect x="1797" y="5853.5" width="192" height="27"/><text x="1803" y="5871">③谁能对亿以内数的读法进行总结?</text></g>
<g id="m4g" class="m"><rect x="1618" y="5929.5" width="153" height="27"/><text x="1624" y="5947">（3）请小老师判断第三题。</text></g>
<g id="m4g1" class="m"><rect x="1797" y="5903.5" width="155" height="27"/><text x="1803" y="5921">①想一想怎样写出亿以内数?</text></g>
<g id="m4g2" class="m"><rect x="1797" y="5954.5" width="193" height="27"/><text x="1803" y="5972">②有什么需要提醒同学注意的地方吗?</text></g>
<g id="m4g2a" class="m"><rect x="2018" y="5954.5" width="102" height="27"/><text x="2024" y="5972">（零占位的问题）</text></g>
<g id="m4h" class="m"><rect x="1618" y="6005.5" width="237" height="41"/><text x="1624" y="6022.6">（4）就亿以内数的读写法你有什么建设性的<tspan x="1624" dy="14.7">意见？也就是怎样能迅速、快捷、避免错误。</tspan></text></g>
<g id="m4h1" class="m"><rect x="1877" y="6012.5" width="226" height="27"/><text x="1883" y="6030">（读、写法注意四位一分级；做完回查。）</text></g>
<g id="m4i" class="m"><rect x="1618" y="6094.5" width="153" height="27"/><text x="1624" y="6112">（5）请小老师判断第四题。</text></g>
<g id="m4i1" class="m"><rect x="1797" y="6070.5" width="124" height="27"/><text x="1803" y="6088">①请说明判断的理由。</text></g>
<g id="m4i2" class="m"><rect x="1797" y="6119.5" width="204" height="27"/><text x="1803" y="6137">②你能说说改写和省略的异同之处吗?</text></g>
<g id="m4j" class="m"><rect x="1618" y="6728.5" width="237" height="41"/><text x="1624" y="6745.6">（6）请你对自己评价一下，是否是一个好老<tspan x="1624" dy="14.7">师。</tspan></text></g>
<g id="m4j1" class="m"><rect x="1877" y="6534.5" width="100" height="27"/><text x="1883" y="6552">（三）巩固练习:</text></g>
<g id="m4j1a" class="m"><rect x="2001" y="6171" width="238" height="56"/><text x="2007" y="6188.3">要想当一个好老师光给别人挑出问题是不够的<tspan x="2007" dy="14.7">，自己必须概念清晰。下面请你们自己测试一</tspan><tspan x="2007" dy="14.7">下自己。</tspan></text></g>
<g id="m4j1b" class="m"><rect x="2001" y="6250.5" width="238" height="41"/><text x="2007" y="6267.6">1．出示书中的图片练习P9第4题，P10第8题<tspan x="2007" dy="14.7">，P11第11题。</tspan></text></g>
<g id="m4j1c" class="m"><rect x="2001" y="6315.5" width="170" height="27"/><text x="2007" y="6333">通过这组练习请你为自己打分。</text></g>
<g id="m4j1d" class="m"><rect x="2001" y="6365.5" width="165" height="27"/><text x="2007" y="6383">2．判断下面那些说法不合理。</text></g>
<g id="m4j1e" class="m"><rect x="2001" y="6416.5" width="128" height="27"/><text x="2007" y="6434">珠穆朗玛峰高8848米；</text></g>
<g id="m4j1f" class="m"><rect x="2001" y="6466.5" width="147" height="27"/><text x="2007" y="6484">我今天卖出二千万根冰棍；</text></g>
<g id="m4j1g" class="m"><rect x="2001" y="6517.5" width="122" height="27"/><text x="2007" y="6535">我们学校有500多人；</text></g>
<g id="m4j1h" class="m"><rect x="2001" y="6567.5" width="114" height="27"/><text x="2007" y="6585">我们学校有十万人。</text></g>
<g id="m4j1i" class="m"><rect x="2001" y="6617.5" width="238" height="41"/><text x="2007" y="6634.6">3．用0、0、0、1、2、3、4这七个数字按要<tspan x="2007" dy="14.7">求组成七位数。</tspan></text></g>
<g id="m4j1j" class="m"><rect x="2001" y="6682.5" width="63" height="27"/><text x="2007" y="6700">读两个0；</text></g>
<g id="m4j1k" class="m"><rect x="2001" y="6733.5" width="63" height="27"/><text x="2007" y="6751">读一个0；</text></g>
<g id="m4j1l" class="m"><rect x="2001" y="6783.5" width="150" height="27"/><text x="2007" y="6801">所有的0都不读；读三个0。</text></g>
<g id="m4j1m" class="m"><rect x="2001" y="6834.5" width="182" height="27"/><text x="2007" y="6852">4．第16页第3题；第17页第5题；</text></g>
<g id="m4j1n" class="m"><rect x="2001" y="6885.5" width="233" height="27"/><text x="2007" y="6903">5．合作小组用自己做的转盘练习读、写数。</text></g>
<g id="m4j2" class="m"><rect x="1877" y="6935.5" width="238" height="27"/><text x="1883" y="6953">（四）总结：请你谈谈当一名好老师的感受。</text></g>

<!-- 篇5 -->
<g id="p5" class="tg"><rect x="1338" y="7147" width="168" height="33"/><text x="1346" y="7169">四年级趣味数学教案篇5</text></g>
<g id="g1" class="g"><rect x="1528" y="6985" width="237" height="130"/><text x="1534" y="7002.5">常见的数量关系是小学数学教学的一个重要内<tspan x="1534" dy="14.7">容。单价×数量=总价，速度×时间=路程这两</tspan><tspan x="1534" dy="14.7">个常见的数量关系，学生在日常生活和以前解</tspan><tspan x="1534" dy="14.7">答各种应用题时都遇到过，只是没有加以概括</tspan><tspan x="1534" dy="14.7">，形成规律性的认识。本课的关键是如何通过</tspan><tspan x="1534" dy="14.7">实际的例子，使学生理解和掌握以及能用术语</tspan><tspan x="1534" dy="14.7">表达这些数量关系，并能在解答应用题和实际</tspan><tspan x="1534" dy="14.7">问题中加以运用。</tspan></text></g>
<g id="g2" class="g"><rect x="1528" y="7139" width="237" height="277"/><text x="1534" y="7156">小学生具有强烈的好奇心和要求独立的意识。<tspan x="1534" dy="14.7">因此，在课堂上应把内容放手交给学生，为他</tspan><tspan x="1534" dy="14.7">们提供独立思考，独立解决问题的时间和空间</tspan><tspan x="1534" dy="14.7">，在本节课上，我并没有简单地把数量关系告</tspan><tspan x="1534" dy="14.7">诉学生，而是让学生找找黑板上的这些题有哪</tspan><tspan x="1534" dy="14.7">些相同点，引导他们通过小组合作，讨论，共</tspan><tspan x="1534" dy="14.7">同探究出单价×数量=总价，速度×时间=路程</tspan><tspan x="1534" dy="14.7">这两个数量关系，使每一个学生真正成为学习</tspan><tspan x="1534" dy="14.7">的主人。在教学单价×数量=总价时，让学生</tspan><tspan x="1534" dy="14.7">找出例题的共同点，学生的回答出乎我的意料</tspan><tspan x="1534" dy="14.7">，几乎不用怎么引导，学生就找出了共同点，</tspan><tspan x="1534" dy="14.7">而且，给共同点命名，只有总价是老师加以引</tspan><tspan x="1534" dy="14.7">导，单价和数量都是学生自己命名；速度和时</tspan><tspan x="1534" dy="14.7">间是一名学生直接说出，因为在平时的讲课中</tspan><tspan x="1534" dy="14.7">我有涉及到，学生记忆深刻，我在表扬学生生</tspan><tspan x="1534" dy="14.7">活经验积累丰富的同时，让学生找出速度、时</tspan><tspan x="1534" dy="14.7">间和路程，还让学生列举大量的生活实例，进</tspan><tspan x="1534" dy="14.7">一步认识单价、速度等概念。</tspan></text></g>

<!-- 篇2 -->
<g id="p2" class="tt"><rect x="931" y="3271" width="168" height="33"/><text x="938" y="3293">四年级趣味数学教案篇2</text></g>
<g id="t1" class="t"><rect x="843" y="2428.5" width="67" height="27"/><text x="849" y="2446">教学目的：</text></g>
<g id="t1a" class="t"><rect x="581" y="2364.5" width="239" height="41"/><text x="587" y="2381.6">1．使学生在已有知识基础上，掌握亿以内数<tspan x="587" dy="14.7">的写法，能根据数级正确地写出亿以内的数。</tspan></text></g>
<g id="t1b" class="t"><rect x="609" y="2428.5" width="211" height="27"/><text x="615" y="2446">2．培养学生主动迁移知识的思维习惯。</text></g>
<g id="t1c" class="t"><rect x="581" y="2478.5" width="239" height="41"/><text x="587" y="2495.6">3．结合显示素材感受我国社会主义建设的成<tspan x="587" dy="14.7">就，激发民族自豪感。</tspan></text></g>
<g id="t2" class="t"><rect x="774" y="2615.5" width="136" height="27"/><text x="780" y="2633">教学重点、难点、关键：</text></g>
<g id="t2a" class="t"><rect x="598" y="2544.5" width="153" height="27"/><text x="604" y="2562">1．重点：教学写万级的数。</text></g>
<g id="t2b" class="t"><rect x="514" y="2594.5" width="237" height="41"/><text x="520" y="2611.6">2．难点：亿以内中间和末尾有0的数的写法<tspan x="520" dy="14.7">。</tspan></text></g>
<g id="t2c" class="t"><rect x="514" y="2659.5" width="237" height="85"/><text x="520" y="2676.6">3．关键：让学生熟练掌握数位顺序表。掌握<tspan x="520" dy="14.7">数位的名称、顺序，进率关系。四位分级法以</tspan><tspan x="520" dy="14.7">及数的组成等知识。并以万以内数的写法为基</tspan><tspan x="520" dy="14.7">础，把个级写的方法推广到万级。能正确地写</tspan><tspan x="520" dy="14.7">亿以内的数。</tspan></text></g>
<g id="t3" class="t"><rect x="808" y="2808.5" width="102" height="27"/><text x="814" y="2826">教具、学具准备：</text></g>
<g id="t3a" class="t"><rect x="547" y="2768.5" width="239" height="41"/><text x="553" y="2785.6">师：含有亿以内数相关信息的音像材料，数位<tspan x="553" dy="14.7">顺序表。</tspan></text></g>
<g id="t3b" class="t"><rect x="547" y="2833.5" width="239" height="41"/><text x="553" y="2850.6">生：收集现实生活中亿以内数的信息数条，计<tspan x="553" dy="14.7">数器或算盘。</tspan></text></g>
<g id="t4" class="t"><rect x="843" y="3114.5" width="67" height="27"/><text x="849" y="3132">教学过程：</text></g>
<g id="t4a" class="t"><rect x="626" y="3021.5" width="194" height="27"/><text x="632" y="3039">一、出示信息，复习万以内数的写法</text></g>
<g id="t4a1" class="t"><rect x="518" y="2898.5" width="86" height="27"/><text x="524" y="2916">1．播放新闻。</text></g>
<g id="t4a2" class="t"><rect x="400" y="2948.5" width="204" height="27"/><text x="406" y="2966">荆州长江大桥总长四千三百九十八米。</text></g>
<g id="t4a3" class="t"><rect x="365" y="2999.5" width="239" height="41"/><text x="371" y="3016.6">湖北省荆州市沙市区北京路二小现有学生一千<tspan x="371" dy="14.7">九百五十三人，校园面积为九千五百平方米。</tspan></text></g>
<g id="t4a4" class="t"><rect x="365" y="3064.5" width="239" height="41"/><text x="371" y="3081.6">2．师：你在刚才的画面中了解到了哪些数据<tspan x="371" dy="14.7">？你能把这些数据写出来吗？</tspan></text></g>
<g id="t4a5" class="t"><rect x="365" y="3129" width="239" height="56"/><text x="371" y="3146.3">订正时，让学生说说万以内数的写法：从高位<tspan x="371" dy="14.7">写起，哪一位是几就在哪一位上写几，哪一位</tspan><tspan x="371" dy="14.7">上一个单位也没有就在哪一位上写0。</tspan></text></g>
<g id="t4b" class="t"><rect x="616" y="3208.5" width="204" height="27"/><text x="622" y="3226">二、利用信息，学习有亿以内数的写法</text></g>
<g id="t5" class="t"><rect x="808" y="3415.5" width="102" height="27"/><text x="814" y="3433">1．继续播放新闻：</text></g>
<g id="t5a" class="t"><rect x="541" y="3263" width="238" height="56"/><text x="547" y="3280.3">据统计，2000年有六千八百五十万少先队员<tspan x="547" dy="14.7">参加了“手拉手”活动，三千零八十万人参加了</tspan><tspan x="547" dy="14.7">“保护母亲河”行动。</tspan></text></g>
<g id="t5b" class="t"><rect x="541" y="3339.5" width="238" height="41"/><text x="547" y="3356.6">2．提问：在刚才的新闻中你注意到了哪些数<tspan x="547" dy="14.7">据？这些数据有什么共同的特点？</tspan></text></g>
<g id="t5c" class="t"><rect x="541" y="3404" width="238" height="56"/><text x="547" y="3421.3">学生可能会说：这些数都很大，它们都占有两<tspan x="547" dy="14.7">个数级……。学生的回答只要有道理，教师都</tspan><tspan x="547" dy="14.7">给予肯定。</tspan></text></g>
<g id="t5d" class="t"><rect x="541" y="3484.5" width="238" height="41"/><text x="547" y="3501.6">师：你能试着写出这些数吗？先独立写一写，<tspan x="547" dy="14.7">再在小组内进行交流。</tspan></text></g>
<g id="t5e" class="t"><rect x="541" y="3548.5" width="238" height="41"/><text x="547" y="3565.6">学生进行小组活动。教师倾听小组意见，了解<tspan x="547" dy="14.7">学生的讨论情况。</tspan></text></g>
<g id="t6" class="t"><rect x="672" y="3668.5" width="238" height="41"/><text x="678" y="3685.6">各小组代表介绍自己的方法，学生可能会出现<tspan x="678" dy="14.7">两种意见：</tspan></text></g>
<g id="t6a" class="t"><rect x="411" y="3615" width="238" height="56"/><text x="417" y="3632.3">（1）先写出数位顺序表，对准数位一位一位<tspan x="417" dy="14.7">地往下写，如果哪一位上一个单位也没有就写</tspan><tspan x="417" dy="14.7">0占位。</tspan></text></g>
<g id="t6b" class="t"><rect x="411" y="3708" width="238" height="56"/><text x="417" y="3725.3">（2）一级一级地写，先写万级，再写个级，<tspan x="417" dy="14.7">哪一位上一个单位也没有，就在哪一位上写0</tspan><tspan x="417" dy="14.7">。</tspan></text></g>
<g id="t7" class="t"><rect x="672" y="3851" width="238" height="56"/><text x="678" y="3868.3">师：这些数的位数很多，写的时候可能会出错<tspan x="678" dy="14.7">，谁有好的检查方法介绍给大家呢？学生可能</tspan><tspan x="678" dy="14.7">提出两种方法：</tspan></text></g>
<g id="t7a" class="t"><rect x="411" y="3809.5" width="238" height="41"/><text x="417" y="3826.6">（1）写完后可以把写出的数再写一遍，看是<tspan x="417" dy="14.7">否与要求写的数一致。</tspan></text></g>
<g id="t7b" class="t"><rect x="411" y="3907.5" width="238" height="41"/><text x="417" y="3924.6">（2）根据位的判断这个数是几位数，然后进<tspan x="417" dy="14.7">行核对。</tspan></text></g>
<g id="t8" class="t"><rect x="825" y="4116.5" width="85" height="27"/><text x="831" y="4134">2．数学游戏：</text></g>
<g id="t8a" class="t"><rect x="563" y="4005" width="239" height="56"/><text x="569" y="4022.3">由新闻发布官发布自己在课前收集的信息，各<tspan x="569" dy="14.7">位小记者负责将信息中的数据记录下来，最后</tspan><tspan x="569" dy="14.7">统一核对，考察小记者工作是否合格。</tspan></text></g>
<g id="t8b" class="t"><rect x="563" y="4084.5" width="239" height="27"/><text x="569" y="4102">如：三年内中国数字电视用户将达到三千万。</text></g>
<g id="t8c" class="t"><rect x="723" y="4134.5" width="79" height="27"/><text x="729" y="4152">四、课堂总结</text></g>
<g id="t8c1" class="t"><rect x="463" y="4134.5" width="237" height="27"/><text x="469" y="4152">你有什么收获？学生发言后，教师板书课题。</text></g>
<g id="t8d" class="t"><rect x="700" y="4213.5" width="102" height="27"/><text x="706" y="4231">五、课堂独立作业</text></g>
<g id="t8d1" class="t"><rect x="512" y="4185.5" width="166" height="27"/><text x="518" y="4203">课本第10－11页7、9、12题。</text></g>
<g id="t8d2" class="t"><rect x="440" y="4232.5" width="238" height="41"/><text x="446" y="4249.6">对个别有困难的学生，教师可进行指导和帮助<tspan x="446" dy="14.7">。</tspan></text></g>

<!-- 篇4 -->
<g id="p4" class="tb"><rect x="931" y="4959" width="168" height="33"/><text x="938" y="4981">四年级趣味数学教案篇4</text></g>
<g id="b1" class="b"><rect x="672" y="4301.5" width="238" height="41"/><text x="678" y="4318.6">一、教学内容：两种常见的数量关系P52——<tspan x="678" dy="14.7">P53</tspan></text></g>
<g id="b2" class="b"><rect x="821" y="4459.5" width="89" height="27"/><text x="827" y="4477">二、教学目标：</text></g>
<g id="b2a" class="b"><rect x="559" y="4366" width="238" height="56"/><text x="565" y="4383.3">1.使学生初步认识单价、数量、总价以及速度<tspan x="565" dy="14.7">、时间、路程的含义，在具体生活情境中理解</tspan><tspan x="565" dy="14.7">和掌握这两组数量关系。</tspan></text></g>
<g id="b2b" class="b"><rect x="559" y="4445" width="238" height="56"/><text x="565" y="4462.3">2.认识这些常见的数量关系中各种不同数量的<tspan x="565" dy="14.7">求法，会应用这些常见的数量关系解决一些实</tspan><tspan x="565" dy="14.7">际问题。</tspan></text></g>
<g id="b2c" class="b"><rect x="559" y="4526" width="238" height="56"/><text x="565" y="4543.3">3.初步培养学生运用数学术语的能力和综合、<tspan x="565" dy="14.7">抽象、概括的能力，渗透事物之间相互联系的</tspan><tspan x="565" dy="14.7">观点。</tspan></text></g>
<g id="b3" class="b"><rect x="820" y="4660.5" width="90" height="27"/><text x="826" y="4678">三、教学重难点</text></g>
<g id="b3a" class="b"><rect x="559" y="4606" width="238" height="56"/><text x="565" y="4623.3">重点：使学生初步认识单价、数量、总价以及<tspan x="565" dy="14.7">速度、时间、路程的含义，在具体生活情境中</tspan><tspan x="565" dy="14.7">理解和掌握这两组数量关系。</tspan></text></g>
<g id="b3b" class="b"><rect x="559" y="4685" width="238" height="56"/><text x="565" y="4702.3">难点：初步培养学生运用数学术语的能力和综<tspan x="565" dy="14.7">合、抽象、概括的能力，渗透事物之间相互联</tspan><tspan x="565" dy="14.7">系的观点。</tspan></text></g>
<g id="b4" class="b"><rect x="809" y="4765.5" width="101" height="27"/><text x="815" y="4783">四、教学准备课件</text></g>
<g id="b5" class="b"><rect x="831" y="5615.5" width="79" height="27"/><text x="837" y="5633">五、教学过程</text></g>
<g id="b5a" class="b"><rect x="718" y="4830.5" width="90" height="27"/><text x="724" y="4848">（一）激情导入</text></g>
<g id="b5a1" class="b"><rect x="457" y="4816" width="238" height="56"/><text x="463" y="4833.3">谈话:同学们，这有一些物品的价格信息，请<tspan x="463" dy="14.7">你来做售货员，算一算要花多少钱？（出示教</tspan><tspan x="463" dy="14.7">材P52例4）</tspan></text></g>
<g id="b5b" class="b"><rect x="718" y="5420.5" width="90" height="27"/><text x="724" y="5438">（二）民主导学</text></g>
<g id="b5b1" class="b"><rect x="626" y="5062.5" width="69" height="27"/><text x="632" y="5080">1、教学例4</text></g>
<g id="b5b1a" class="b"><rect x="396" y="4894.5" width="208" height="27"/><text x="402" y="4912">（1）篮球每个80元，买3个要多少钱？</text></g>
<g id="b5b1b" class="b"><rect x="385" y="5230.5" width="219" height="27"/><text x="391" y="5248">（2）鱼每千克10元，买4千克要多少钱？</text></g>
<g id="b5b2" class="b"><rect x="626" y="5777.5" width="69" height="27"/><text x="632" y="5795">2、教学例5</text></g>
<g id="b5b2a" class="b"><rect x="496" y="5589.5" width="108" height="27"/><text x="502" y="5607">出示例题，独立解答</text></g>
<g id="b5b2b" class="b"><rect x="366" y="5640.5" width="238" height="41"/><text x="372" y="5657.6">（1）一辆汽车每小时行70千米，4小时行多<tspan x="372" dy="14.7">少千米？</tspan></text></g>
<g id="b5b2c" class="b"><rect x="366" y="5958.5" width="238" height="41"/><text x="372" y="5975.6">（2）一人骑自行车每分钟行225米，10分钟<tspan x="372" dy="14.7">行多少米？</tspan></text></g>
<g id="b5c" class="b"><rect x="718" y="6400.5" width="90" height="27"/><text x="724" y="6418">（三）检测导结</text></g>
<g id="b5c1" class="b"><rect x="622" y="6298.5" width="73" height="27"/><text x="628" y="6316">1、目标检测</text></g>
<g id="b5c1a" class="b"><rect x="429" y="6298.5" width="170" height="27"/><text x="435" y="6316">教材P52-P53做一做，指名汇报</text></g>
<g id="b5c2" class="b"><rect x="622" y="6349.5" width="73" height="27"/><text x="628" y="6367">2、结果反馈</text></g>
<g id="b5c2a" class="b"><rect x="487" y="6349.5" width="112" height="27"/><text x="493" y="6367">集体订正，及时纠错</text></g>
<g id="b5c3" class="b"><rect x="622" y="6500.5" width="73" height="27"/><text x="628" y="6518">3、反思总结</text></g>
<g id="b5c3a" class="b"><rect x="475" y="6399.5" width="124" height="27"/><text x="481" y="6417">说一说你有什么收获。</text></g>
<g id="b5c3b" class="b"><rect x="486" y="6450.5" width="113" height="27"/><text x="492" y="6468">两种常见的数量关系</text></g>
<g id="b5c3c" class="b"><rect x="410" y="6500.5" width="189" height="27"/><text x="416" y="6518">单价×数量＝总价速度×时间＝路程</text></g>
<g id="b5c3d" class="b"><rect x="410" y="6550.5" width="189" height="27"/><text x="416" y="6568">总价÷数量＝单价路程÷时间＝速度</text></g>
<g id="b5c3e" class="b"><rect x="410" y="6601.5" width="189" height="27"/><text x="416" y="6619">总价÷单价＝数量路程÷速度＝时间</text></g>

<g id="watermark" class="wm" opacity="0.55">
<text transform="translate(648 517) rotate(-32)" y="40">树图 shutu.cn</text>
<text transform="translate(1926 517) rotate(-32)" y="40">树图 shutu.cn</text>
<text transform="translate(648 1517) rotate(-32)" y="40">树图 shutu.cn</text>
<text transform="translate(1926 1517) rotate(-32)" y="40">树图 shutu.cn</text>
<text transform="translate(648 2517) rotate(-32)" y="40">树图 shutu.cn</text>
<text transform="translate(1926 2517) rotate(-32)" y="40">树图 shutu.cn</text>
<text transform="translate(648 3517) rotate(-32)" y="40">树图 shutu.cn</text>
<text transform="translate(1926 3517) rotate(-32)" y="40">树图 shutu.cn</text>
<text transform="translate(648 4517) rotate(-32)" y="40">树图 shutu.cn</text>
<text transform="translate(1926 4517) rotate(-32)" y="40">树图 shutu.cn</text>
<text transform="translate(648 5517) rotate(-32)" y="40">树图 shutu.cn</text>
<text transform="translate(1926 5517) rotate(-32)" y="40">树图 shutu.cn</text>
<text transform="translate(648 6517) rotate(-32)" y="40">树图 shutu.cn</text>
<text transform="translate(1926 6517) rotate(-32)" y="40">树图 shutu.cn</text>
<text transform="translate(648 7517) rotate(-32)" y="40">树图 shutu.cn</text>
<text transform="translate(1926 7517) rotate(-32)" y="40">树图 shutu.cn</text>
</g>
</g>
</svg>
